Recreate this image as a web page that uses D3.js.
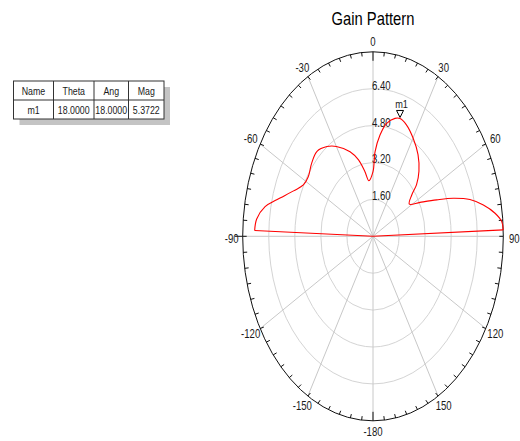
<!DOCTYPE html>
<html>
<head>
<meta charset="utf-8">
<script src="https://cdn.jsdelivr.net/npm/d3@7"></script>
<style>
  html, body { margin: 0; padding: 0; background: #fff; }
  svg { display: block; font-family: "Liberation Sans", Arial, sans-serif; }
</style>
</head>
<body>
<svg id="chart" width="520" height="441"></svg>
<script>
// ---- data ----
const chartTitle = "Gain Pattern";
const thetaDeg = [-90, -88, -84, -79, -75, -68, -62.5, -57, -50, -43, -36, -30, -21, -15, -10, -6, 0, 2, 5.6, 9.7, 14.8, 18, 23, 30, 38, 45, 50, 53, 58, 63, 68, 71.5, 75, 78.7, 82.4, 85.4, 88, 90];
const gainValues = [0, 7.27, 7.18, 6.75, 6.12, 5.26, 4.82, 4.74, 4.92, 5.04, 4.81, 4.50, 3.93, 3.43, 2.84, 2.42, 2.80, 3.67, 4.41, 4.97, 5.29, 5.37, 5.25, 4.92, 4.49, 3.99, 3.49, 2.98, 2.63, 3.24, 4.22, 5.20, 6.16, 6.91, 7.56, 7.93, 8.0, 0];
const radialTicks = [1.6, 3.2, 4.8, 6.4];
const radialMax = 8.0;
const angleLabels = [0, 30, 60, 90, 120, 150, -180, -150, -120, -90, -60, -30];
const markerName = "m1";
const markerTheta = 18.0;
const markerMag = 5.3722;
const tableHeaders = ["Name", "Theta", "Ang", "Mag"];
const tableRow = ["m1", "18.0000", "18.0000", "5.3722"];

// ---- layout ----
const svg = d3.select("#chart");
const cx = 373, cy = 236.3, rx = 130.3, ry = 184.5;
const rScale = d3.scaleLinear().domain([0, radialMax]).range([0, 1]);
const aScale = d3.scaleLinear().domain([0, 360]).range([0, 2 * Math.PI]);
const px = (a, r) => cx + rx * rScale(r) * Math.sin(aScale(a));
const py = (a, r) => cy - ry * rScale(r) * Math.cos(aScale(a));
const sx = 0.8;

function sText(g, x, y, txt, size, anchor) {
  return g.append("text")
    .attr("transform", `translate(${x},${y}) scale(${sx},1)`)
    .attr("text-anchor", anchor || "middle")
    .attr("dominant-baseline", "central")
    .attr("font-size", size)
    .attr("fill", "#1a1a1a")
    .text(txt);
}

// title
svg.append("text")
  .attr("transform", `translate(${cx},25) scale(0.82,1)`)
  .attr("text-anchor", "middle")
  .attr("font-size", 18)
  .attr("fill", "#000")
  .text(chartTitle);

// grid rings
const grid = svg.append("g");
grid.selectAll("ellipse.ring").data(radialTicks).join("ellipse")
  .attr("cx", cx).attr("cy", cy)
  .attr("rx", d => rx * rScale(d)).attr("ry", d => ry * rScale(d))
  .attr("fill", "none").attr("stroke", "#d4d4d4").attr("stroke-width", 1);

// spokes
const spokes = d3.range(0, 360, 30);
grid.selectAll("line.spoke").data(spokes).join("line")
  .attr("x1", cx).attr("y1", cy)
  .attr("x2", d => px(d, radialMax)).attr("y2", d => py(d, radialMax))
  .attr("stroke", "#c8c8c8").attr("stroke-width", 1);

// outer ellipse
svg.append("ellipse")
  .attr("cx", cx).attr("cy", cy).attr("rx", rx).attr("ry", ry)
  .attr("fill", "none").attr("stroke", "#111").attr("stroke-width", 1);

// ticks every 5 degrees
const tickAngles = d3.range(0, 360, 5);
function tickEnd(d, comp) {
  const len = (d % 180 === 0) ? 9 : 4;
  const a = aScale(d);
  const nx = Math.sin(a) / rx, ny = -Math.cos(a) / ry;
  const n = Math.hypot(nx, ny);
  return comp === "x" ? px(d, radialMax) - len * nx / n : py(d, radialMax) - len * ny / n;
}
svg.append("g").selectAll("line").data(tickAngles).join("line")
  .attr("x1", d => px(d, radialMax)).attr("y1", d => py(d, radialMax))
  .attr("x2", d => tickEnd(d, "x"))
  .attr("y2", d => tickEnd(d, "y"))
  .attr("stroke", "#111").attr("stroke-width", 1);
// outward tick at -90
svg.append("line")
  .attr("x1", px(-90, radialMax)).attr("y1", py(-90, radialMax))
  .attr("x2", px(-90, radialMax) - 8).attr("y2", py(-90, radialMax))
  .attr("stroke", "#111").attr("stroke-width", 1);

// angle labels
const lab = svg.append("g");
angleLabels.forEach(a => {
  const t = aScale(a);
  const x = cx + (rx + 11) * Math.sin(t);
  const y = cy - (ry + 10.5) * Math.cos(t) + (Math.abs(a) === 90 ? 2 : 0);
  sText(lab, x, y, String(a), 12, "middle");
});

// radial labels
radialTicks.forEach(r => {
  sText(lab, cx - 1, cy - ry * rScale(r) - 3.5, r.toFixed(2), 12, "start");
});

// pattern
const pts = thetaDeg.map((t, i) => ({ t: t, r: gainValues[i] }));
const lobe = pts.slice(1, pts.length - 1);
const lineGen = d3.line().x(d => px(d.t, d.r)).y(d => py(d.t, d.r));
svg.append("path")
  .attr("d", lineGen.curve(d3.curveCatmullRom.alpha(0.5))(lobe))
  .attr("fill", "none").attr("stroke", "#ff0000").attr("stroke-width", 1.1);
const spokePts = [pts[pts.length - 2], pts[pts.length - 1], pts[0], pts[1]];
svg.append("path")
  .attr("d", d3.line().x(d => px(d.t, d.r)).y(d => py(d.t, d.r))(spokePts))
  .attr("fill", "none").attr("stroke", "#ff0000").attr("stroke-width", 1.1);

// marker
const mx = px(markerTheta, markerMag), my = py(markerTheta, markerMag) - 1;
svg.append("path")
  .attr("d", `M${mx},${my} L${mx - 3.5},${my - 7} L${mx + 3.5},${my - 7} Z`)
  .attr("fill", "#fff").attr("stroke", "#000").attr("stroke-width", 1);
sText(svg, mx + 1.5, my - 13.5, markerName, 11.5, "middle");

// table
const tx = 13.5, ty = 81, colW = [40, 40.5, 34.5, 35.5], rowH = 19;
const tw = d3.sum(colW), th = rowH * 2;
const tbl = svg.append("g");
tbl.append("rect").attr("x", tx + 6).attr("y", ty + 6).attr("width", tw).attr("height", th).attr("fill", "#c4c4c4");
tbl.append("rect").attr("x", tx).attr("y", ty).attr("width", tw).attr("height", th)
  .attr("fill", "#fff").attr("stroke", "#333").attr("stroke-width", 1);
const colX = d3.cumsum([0].concat(colW)).map(v => tx + v);
colX.slice(1, colW.length).forEach(x => {
  tbl.append("line").attr("x1", x).attr("x2", x).attr("y1", ty).attr("y2", ty + th)
    .attr("stroke", "#333").attr("stroke-width", 1);
});
tbl.append("line").attr("x1", tx).attr("x2", tx + tw).attr("y1", ty + rowH).attr("y2", ty + rowH)
  .attr("stroke", "#333").attr("stroke-width", 1);
[tableHeaders, tableRow].forEach((row, ri) => {
  row.forEach((txt, ci) => {
    sText(tbl, (colX[ci] + colX[ci + 1]) / 2, ty + rowH * ri + rowH / 2 + 0.5, txt, 11, "middle");
  });
});
</script>
</body>
</html>
